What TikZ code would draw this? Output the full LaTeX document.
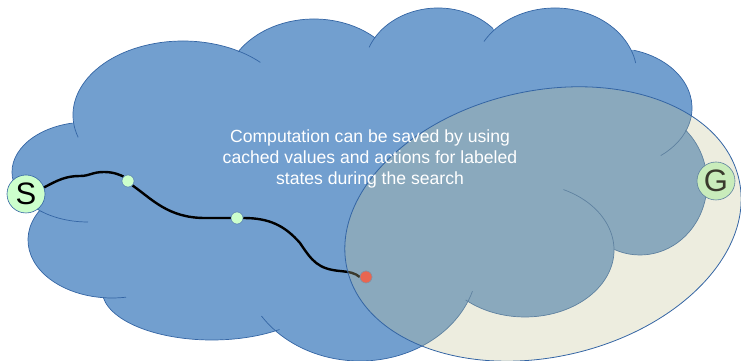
\documentclass[tikz,border=0pt]{standalone}
\usepackage{fontspec}
\setmainfont{Liberation Sans}
\definecolor{cloudfill}{RGB}{114,159,207}
\definecolor{cloudline}{RGB}{52,101,164}
\definecolor{zonefill}{RGB}{195,195,150}
\definecolor{statefill}{RGB}{204,255,204}
\definecolor{failfill}{RGB}{250,62,52}
\begin{document}
\begin{tikzpicture}[x=1pt,y=1pt,
  cloudedge/.style={draw=cloudline,line width=0.7pt},
  track/.style={draw=black,line width=2.4pt},
  bigstate/.style={circle,draw=cloudline,line width=0.6pt,fill=statefill,
    minimum size=38pt,inner sep=0pt,font=\fontsize{31}{31}\selectfont},
  smallstate/.style={circle,draw=cloudline!80,line width=0.5pt,fill=statefill,
    minimum size=12pt,inner sep=0pt},
  failstate/.style={smallstate,fill=failfill},
  zone/.style={draw=cloudline,line width=0.8pt,fill=zonefill,fill opacity=0.3},
  note/.style={text=white,align=center,font=\fontsize{17.6}{20.6}\selectfont}]
\useasboundingbox (0,0) rectangle (741,361);

% lobes of the cloud: centre x, centre y (from the top), radii, outline arc
\def\lobes{183/115/110/74/197.6/45.3, 314/90/90/71/147.6/47.3,
  438/70/74/62/158.6/42, 555/75/82/67/150/10.3, 612/108/80/60/74.3/-52.5,
  640/183/67/72/47.2/-112.5, 525/250/89/67/64.4/-131.8,
  360/261/118/100/-17.6/-146.6, 212/290/110/50/-171.7/-52.2,
  112/240/84/58/150/279.6, 88/172/76/50/101.8/270}

% cloud body
\foreach \cx/\cy/\rx/\ry/\a/\b in \lobes {
  \fill[cloudfill] (\cx,361-\cy) ellipse[x radius=\rx pt,y radius=\ry pt];
}
\fill[cloudfill] (100,191) -- (180,251) -- (300,281) -- (440,301) -- (560,291)
  -- (620,251) -- (640,161) -- (560,121) -- (450,81) -- (300,71) -- (150,91)
  -- (85,146) -- cycle;

% cloud outline
\foreach \cx/\cy/\rx/\ry/\a/\b in \lobes {
  \draw[cloudedge] ([shift={(\a:\rx pt and \ry pt)}]\cx,361-\cy)
    arc[start angle=\a,end angle=\b,x radius=\rx pt,y radius=\ry pt];
}

% states along the search
\node[bigstate] (S) at (26,167) {S};
\node[smallstate] (d1) at (128,180) {};
\node[smallstate] (d2) at (237,143) {};
\node[failstate] (r) at (366,84) {};
\node[bigstate] (G) at (716,180) {G};

% the search trajectory
\draw[track] (S.20) .. controls (58,181) and (66,185) .. (80,185)
  .. controls (90,185) and (92,189) .. (104,189)
  .. controls (114,189) and (120,186) .. (d1.135);
\draw[track] (d1.-45) .. controls (152,162) and (168,143) .. (205,143) -- (d2.west);
\draw[track] (d2.east) .. controls (270,143) and (285,135) .. (300,118)
  .. controls (312,100) and (318,92) .. (340,90)
  .. controls (350,89) and (355,88) .. (r.west);
\node[smallstate] at (d1) {};
\node[smallstate] at (d2) {};
\node[failstate] at (r) {};

% region around the goal
\draw[zone,rotate around={12.9:(543,137)}] (543,137) ellipse[x radius=201pt,y radius=133pt];

\node[note] (txt) at (370,202) {Computation can be saved by using\\cached values and actions for labeled\\states during the search};
\end{tikzpicture}
\end{document}
